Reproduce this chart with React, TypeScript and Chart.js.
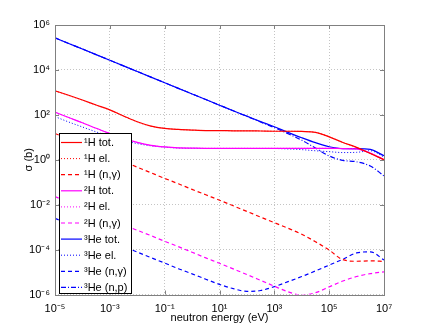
import React, { useEffect, useRef } from "react";
import { Chart, registerables } from "chart.js";

Chart.register(...registerables);

// neutron energy grid (eV)
const energies = [1e-5, 3.16e-5, 1e-4, 3.16e-4, 1e-3, 3.16e-3, 1e-2, 3.16e-2, 0.1, 0.316, 1, 3.16, 10, 31.6, 100, 316, 1e3, 3.16e3, 1e4, 3.16e4, 1e5, 3.16e5, 1e6, 3.16e6, 1e7];

// cross sections (barn)
const h1Tot = [1175, 741, 457, 275, 166, 89, 49, 31.6, 25.1, 22.4, 20.9, 20.0, 20.0, 19.5, 19.5, 19.1, 18.6, 18.6, 18.2, 16.6, 10.5, 5.9, 3.55, 1.9, 1.0];
const h1El = [1160, 733, 452, 272, 165, 88, 48.5, 31.3, 25.0, 22.3, 20.9, 20.0, 20.0, 19.5, 19.5, 19.1, 18.6, 18.6, 18.2, 16.6, 10.5, 5.9, 3.55, 1.9, 1.0];
const h1Cap = [14.8, 8.3, 4.68, 2.63, 1.48, 0.83, 0.468, 0.263, 0.148, 0.085, 0.048, 0.0275, 0.0158, 0.0089, 0.005, 0.0028, 0.00158, 0.00089, 0.00048, 0.000224, 0.0000955, 0.0000355, 0.0000302, 0.0000316, 0.0000295];
const h2Tot = [132, 75.9, 44.7, 25.1, 14.8, 8.9, 5.9, 4.37, 3.72, 3.39, 3.31, 3.24, 3.24, 3.24, 3.24, 3.24, 3.24, 3.24, 3.24, 3.24, 3.24, 3.16, 3.02, 2.0, 1.0];
const h2El = [131, 75.5, 44.5, 25.0, 14.7, 8.85, 5.87, 4.35, 3.7, 3.38, 3.3, 3.23, 3.23, 3.23, 3.23, 3.23, 3.23, 3.23, 3.23, 3.23, 3.23, 3.15, 3.01, 2.0, 1.0];
const h2Cap = [0.0229, 0.0129, 0.00724, 0.00407, 0.00229, 0.00129, 0.000724, 0.000417, 0.000234, 0.000135, 7.59e-5, 4.27e-5, 2.45e-5, 1.38e-5, 7.76e-6, 4.27e-6, 2.34e-6, 1.32e-6, 9.3e-7, 1.2e-6, 2.19e-6, 3.98e-6, 6.31e-6, 8.51e-6, 1.02e-5];
const he3Tot = [269000, 151000, 85100, 47900, 26900, 15100, 8510, 4790, 2690, 1510, 851, 479, 269, 151, 87.1, 50.1, 29.5, 16.6, 9.55, 5.75, 3.8, 3.16, 3.16, 2.88, 1.51];
const he3El = [83.2, 47.9, 28.8, 17.4, 11.0, 7.24, 5.25, 4.17, 3.63, 3.31, 3.24, 3.16, 3.16, 3.16, 3.16, 3.16, 3.16, 3.02, 2.82, 2.51, 2.29, 2.09, 2.14, 2.51, 1.32];
const he3Cap = [0.00245, 0.00138, 0.000776, 0.000437, 0.000245, 0.000138, 7.76e-5, 4.37e-5, 2.51e-5, 1.41e-5, 8.32e-6, 4.79e-6, 2.82e-6, 1.82e-6, 1.38e-6, 1.51e-6, 2.24e-6, 3.72e-6, 6.31e-6, 1.12e-5, 2.04e-5, 3.72e-5, 7.08e-5, 7.94e-5, 3.47e-5];
const he3Np = [269000, 151000, 85100, 47900, 26900, 15100, 8510, 4790, 2690, 1510, 851, 479, 269, 151, 85.1, 47.9, 26.9, 14.5, 7.41, 3.31, 1.48, 0.933, 0.813, 0.525, 0.191];

// tick values
const xTicks = [1e-5, 1e-3, 1e-1, 1e1, 1e3, 1e5, 1e7];
const yTicks = [1e-6, 1e-4, 1e-2, 1, 1e2, 1e4, 1e6];

const FONT = '"Liberation Sans", Arial, Helvetica, sans-serif';
const SUP: Record<string, string> = { "-": "\u207B", "0": "\u2070", "1": "\u00B9", "2": "\u00B2", "3": "\u00B3", "4": "\u2074", "5": "\u2075", "6": "\u2076", "7": "\u2077", "8": "\u2078", "9": "\u2079" };
const pow10Label = (v: number) => "10" + String(Math.round(Math.log10(v))).split("").map((c) => SUP[c] || c).join("");

const RED = "#ff0000";
const MAG = "#ff00ff";
const BLUE = "#0000ff";
const SOLID: number[] = [];
const DOT = [1, 2];
const DASH = [4, 3];
const DASHDOT = [5, 2, 1, 2];

const mk = (label: string, vals: number[], color: string, dash: number[]) => ({
  label,
  data: energies.map((e, i) => ({ x: e, y: vals[i] })),
  borderColor: color,
  backgroundColor: color,
  borderDash: dash,
  borderWidth: dash === DOT ? 1 : 1.2,
  pointRadius: 0,
  fill: false,
  cubicInterpolationMode: "monotone" as const,
});

const framePlugin = {
  id: "frame",
  afterDatasetsDraw(chart: any) {
    const { ctx, chartArea: a, scales } = chart;
    ctx.save();
    ctx.strokeStyle = "#808080";
    ctx.lineWidth = 1;
    ctx.setLineDash([]);
    ctx.strokeRect(Math.round(a.left) + 0.5, Math.round(a.top) + 0.5, Math.round(a.right - a.left), Math.round(a.bottom - a.top));
    ctx.beginPath();
    xTicks.forEach((v) => {
      const px = Math.round(scales.x.getPixelForValue(v)) + 0.5;
      ctx.moveTo(px, a.bottom);
      ctx.lineTo(px, a.bottom - 4);
      ctx.moveTo(px, a.top);
      ctx.lineTo(px, a.top + 4);
    });
    yTicks.forEach((v) => {
      const py = Math.round(scales.y.getPixelForValue(v)) + 0.5;
      ctx.moveTo(a.left, py);
      ctx.lineTo(a.left + 4, py);
      ctx.moveTo(a.right, py);
      ctx.lineTo(a.right - 4, py);
    });
    ctx.stroke();
    ctx.restore();
  },
};

const legendPlugin = {
  id: "boxLegend",
  afterDraw(chart: any) {
    const { ctx, chartArea: a } = chart;
    const w = 72;
    const h = 160;
    const x0 = Math.round(a.left) + 4;
    const y0 = Math.round(a.bottom) - 2 - h;
    ctx.save();
    ctx.fillStyle = "#ffffff";
    ctx.fillRect(x0, y0, w, h);
    ctx.strokeStyle = "#000000";
    ctx.lineWidth = 1;
    ctx.setLineDash([]);
    ctx.strokeRect(x0 + 0.5, y0 + 0.5, w, h);
    chart.data.datasets.forEach((ds: any, i: number) => {
      const y = y0 + 9.5 + i * 16.1;
      ctx.strokeStyle = ds.borderColor;
      ctx.lineWidth = ds.borderWidth;
      ctx.setLineDash(ds.borderDash || []);
      ctx.beginPath();
      ctx.moveTo(x0 + 2, y);
      ctx.lineTo(x0 + 23, y);
      ctx.stroke();
      ctx.setLineDash([]);
      ctx.fillStyle = "#000000";
      ctx.font = `11px ${FONT}`;
      ctx.textBaseline = "middle";
      ctx.textAlign = "left";
      ctx.fillText(ds.label, x0 + 25, y + 0.5);
    });
    ctx.restore();
  },
};

export default function App() {
  const ref = useRef<HTMLCanvasElement | null>(null);
  useEffect(() => {
    document.body.style.margin = "0";
    if (!ref.current) return;
    const tickFont = { family: FONT, size: 11 };
    const chart = new Chart(ref.current, {
      type: "line",
      data: {
        datasets: [
          mk("\u00B9H tot.", h1Tot, RED, SOLID),
          mk("\u00B9H el.", h1El, RED, DOT),
          mk("\u00B9H (n,\u03B3)", h1Cap, RED, DASH),
          mk("\u00B2H tot.", h2Tot, MAG, SOLID),
          mk("\u00B2H el.", h2El, MAG, DOT),
          mk("\u00B2H (n,\u03B3)", h2Cap, MAG, DASH),
          mk("\u00B3He tot.", he3Tot, BLUE, SOLID),
          mk("\u00B3He el.", he3El, BLUE, DOT),
          mk("\u00B3He (n,\u03B3)", he3Cap, BLUE, DASH),
          mk("\u00B3He (n,p)", he3Np, BLUE, DASHDOT),
        ],
      },
      options: {
        responsive: false,
        animation: false,
        events: [],
        layout: { padding: { left: 0, top: 25, right: 41, bottom: 0 } },
        plugins: { legend: { display: false }, tooltip: { enabled: false } },
        scales: {
          x: {
            type: "logarithmic",
            min: 1e-5,
            max: 1e7,
            afterBuildTicks: (s: any) => {
              s.ticks = xTicks.map((v) => ({ value: v }));
            },
            afterFit: (s: any) => {
              s.height = 38.5;
            },
            ticks: {
              callback: (v: any) => pow10Label(Number(v)),
              font: tickFont,
              color: "#000",
              padding: 8,
              maxRotation: 0,
              autoSkip: false,
            },
            grid: { color: "#c4c4c4", drawTicks: false, lineWidth: 1 },
            border: { display: false, dash: [1, 2] },
            title: { display: true, text: "neutron energy (eV)", font: { family: FONT, size: 11 }, color: "#000", padding: { top: 0, bottom: 8 } },
          },
          y: {
            type: "logarithmic",
            min: 1e-6,
            max: 1e6,
            afterBuildTicks: (s: any) => {
              s.ticks = yTicks.map((v) => ({ value: v }));
            },
            afterFit: (s: any) => {
              s.width = 55;
            },
            ticks: {
              callback: (v: any) => pow10Label(Number(v)),
              font: tickFont,
              color: "#000",
              padding: 5,
              autoSkip: false,
            },
            grid: { color: "#c4c4c4", drawTicks: false, lineWidth: 1 },
            border: { display: false, dash: [1, 2] },
            title: { display: true, text: "\u03C3 (b)", font: { family: FONT, size: 11 }, color: "#000", padding: { top: 22, bottom: 0 } },
          },
        },
      },
      plugins: [framePlugin, legendPlugin],
    } as any);
    return () => chart.destroy();
  }, []);
  return (
    <div style={{ position: "absolute", left: 0, top: 0, width: 425, height: 333, background: "#fff" }}>
      <canvas ref={ref} width={425} height={333} />
    </div>
  );
}
